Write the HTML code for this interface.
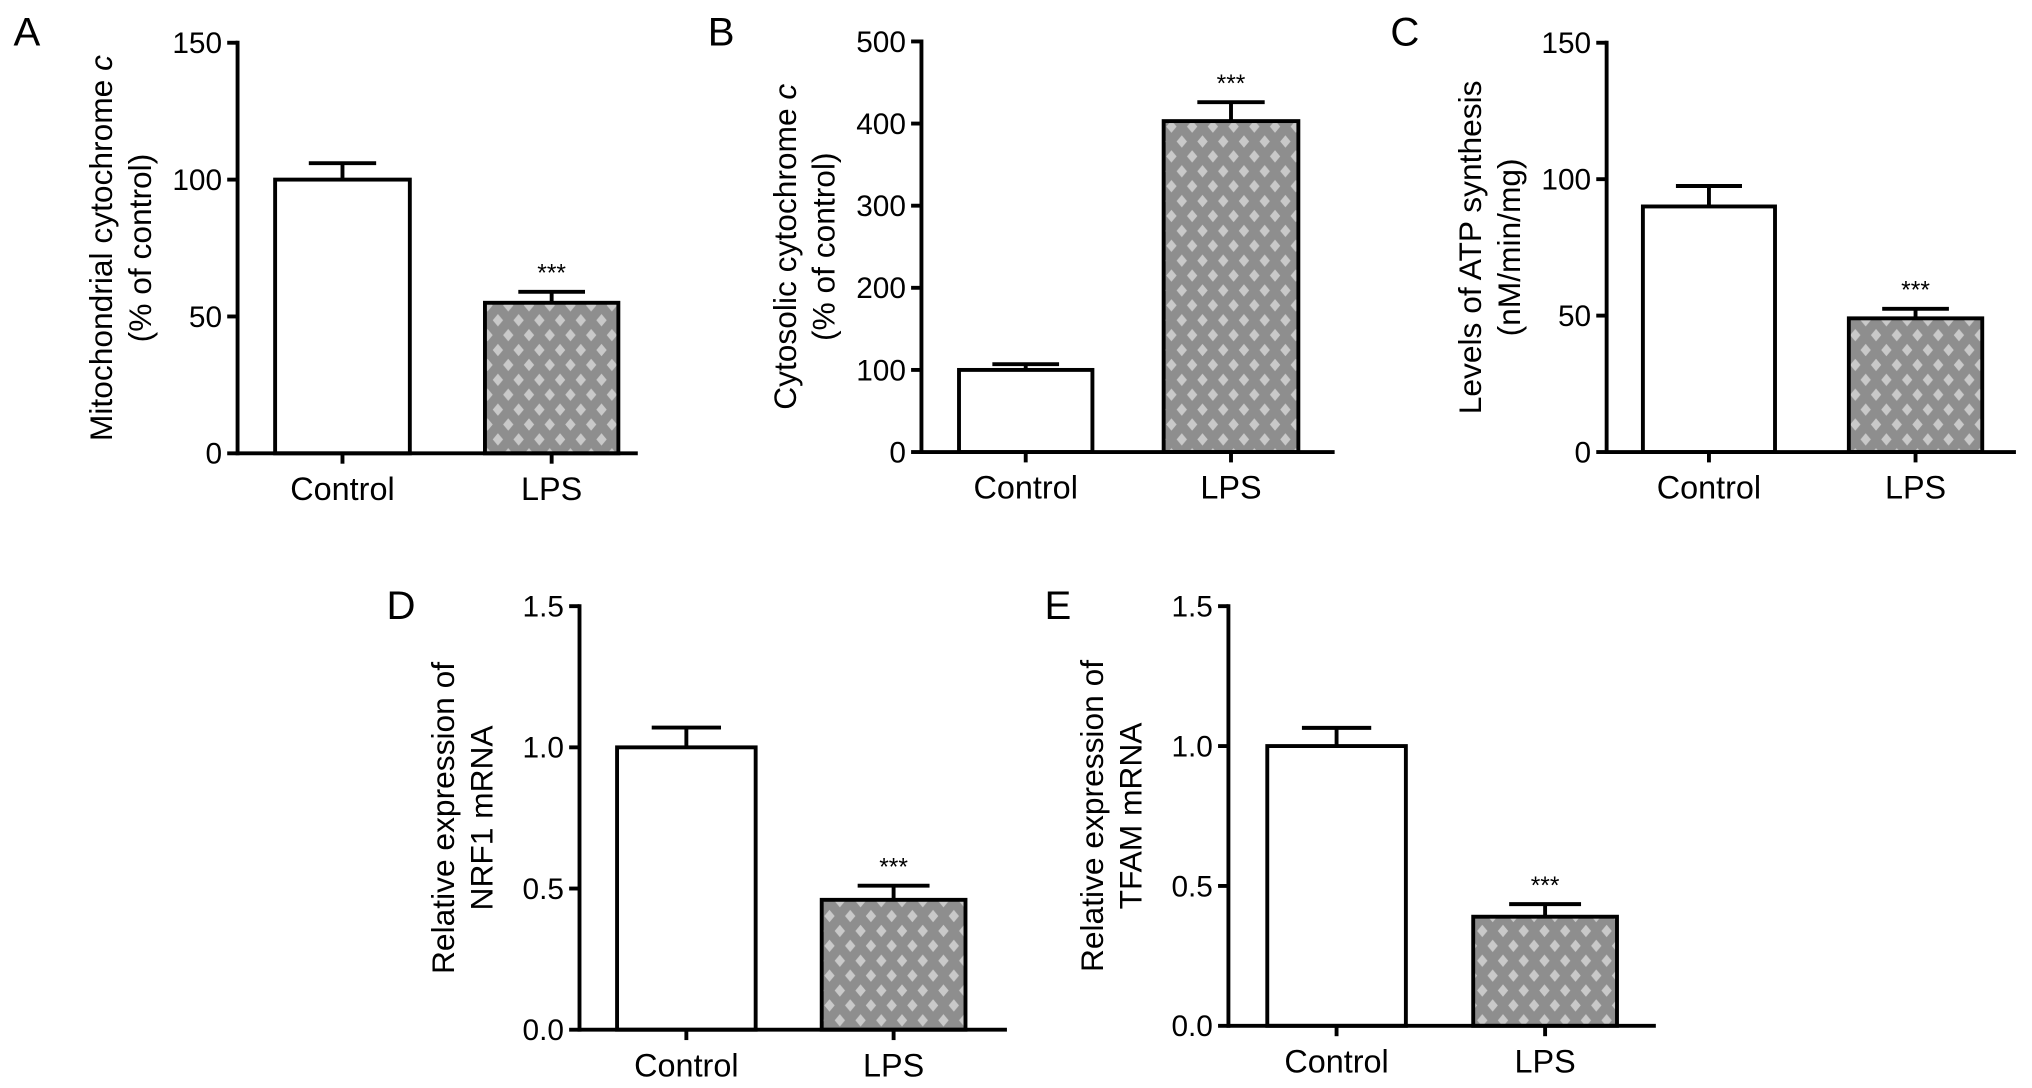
<!DOCTYPE html>
<html><head><meta charset="utf-8"><style>
html,body{margin:0;padding:0;background:#fff}
svg{display:block;font-family:"Liberation Sans",Arial,sans-serif}
</style></head><body>
<svg id="fig" width="2032" height="1088" viewBox="0 0 1568 840" xmlns="http://www.w3.org/2000/svg">
<defs>
<pattern id="dots" width="16" height="23" patternUnits="userSpaceOnUse">
<rect width="16" height="23" fill="#8e8e8e"/>
<path d="M8 1 L12 5.75 L8 10.5 L4 5.75 Z M0 12.5 L4 17.25 L0 22 L-4 17.25 Z M16 12.5 L20 17.25 L16 22 L12 17.25 Z" fill="#c9c9c9"/>
</pattern>
</defs>
</svg>
<script>
const categories = ["Control","LPS"];
const panelLetters = ["A","B","C","D","E"];
const valuesA = [100, 55];   const errA = [106, 59];
const valuesB = [100, 403];  const errB = [107, 426];
const valuesC = [90, 49];    const errC = [97.5, 52.5];
const valuesD = [1.0, 0.46]; const errD = [1.07, 0.51];
const valuesE = [1.0, 0.39]; const errE = [1.065, 0.435];
const ticksA = ["0","50","100","150"];
const ticksB = ["0","100","200","300","400","500"];
const ticksC = ["0","50","100","150"];
const ticksD = ["0.0","0.5","1.0","1.5"];
const ticksE = ["0.0","0.5","1.0","1.5"];
const titlesA = ["Mitochondrial cytochrome c","(% of control)"];
const titlesB = ["Cytosolic cytochrome c","(% of control)"];
const titlesC = ["Levels of ATP synthesis","(nM/min/mg)"];
const titlesD = ["Relative expression of","NRF1 mRNA"];
const titlesE = ["Relative expression of","TFAM mRNA"];

const layout = [
 {ax:183, y0:350, y1:33, xe:492, bars:[[212,316],[374,477]], max:150, ticks:ticksA, vals:valuesA, err:errA, titles:titlesA, italic:true, lx:10, ly:35},
 {ax:711, y0:349, y1:32, xe:1030, bars:[[740,843],[898,1002]], max:500, ticks:ticksB, vals:valuesB, err:errB, titles:titlesB, italic:true, lx:546, ly:35},
 {ax:1240, y0:349, y1:33, xe:1556, bars:[[1268,1370],[1427,1530]], max:150, ticks:ticksC, vals:valuesC, err:errC, titles:titlesC, italic:false, lx:1073, ly:35},
 {ax:447, y0:795, y1:468, xe:777, bars:[[476,583],[634,745]], max:1.5, ticks:ticksD, vals:valuesD, err:errD, titles:titlesD, italic:false, lx:298, ly:478},
 {ax:948, y0:792, y1:468, xe:1278, bars:[[978,1085],[1137,1248]], max:1.5, ticks:ticksE, vals:valuesE, err:errE, titles:titlesE, italic:false, lx:806, ly:478}
];
const NS="http://www.w3.org/2000/svg";
const svg=document.getElementById('fig');
function mk(tag,attrs,parent){const e=document.createElementNS(NS,tag);for(const k in attrs)e.setAttribute(k,attrs[k]);(parent||svg).appendChild(e);return e;}
layout.forEach((p,pi)=>{
  const g=mk('g',{});
  
  
  const yS=v=>p.y0-(v/p.max)*(p.y0-p.y1);
  const L=mk('text',{x:p.lx,y:p.ly,'font-size':31,fill:'#000'},g); L.textContent=panelLetters[pi];
  
  
  categories.forEach((c,i)=>{
    const [x0,x1]=p.bars[i]; const v=p.vals[i]; const yt=yS(v); const cx=(x0+x1)/2;
    const r=mk('rect',{x:x0,y:yt,width:x1-x0,height:p.y0-yt,fill:i==0?'#fff':'url(#dots)',stroke:'#000','stroke-width':3},g);
    
    
    const ye=yS(p.err[i]); const hw=(x1-x0)*0.25;
    const e=mk('path',{d:`M${cx} ${yt} V${ye} M${cx-hw} ${ye} H${cx+hw}`,stroke:'#000','stroke-width':3,fill:'none'},g);
    
    
    const t=mk('text',{x:cx,y:p.y0+36,'font-size':25,'text-anchor':'middle'},g); t.textContent=c;
    
    
    mk('line',{x1:cx,y1:p.y0,x2:cx,y2:p.y0+8,stroke:'#000','stroke-width':3},g);
    if(i==1){const s=mk('text',{x:cx,y:ye-8,'font-size':19,'text-anchor':'middle'},g); s.textContent='***';
      
      }
  });
  const ya=mk('line',{x1:p.ax,y1:p.y1-1.5,x2:p.ax,y2:p.y0+1.5,stroke:'#000','stroke-width':3},g);
  
  
  const xa=mk('line',{x1:p.ax,y1:p.y0,x2:p.xe,y2:p.y0,stroke:'#000','stroke-width':3},g);
  
  
  p.ticks.forEach((t,i)=>{
    const v=p.max*i/(p.ticks.length-1); const y=yS(v);
    mk('line',{x1:p.ax-8,y1:y,x2:p.ax,y2:y,stroke:'#000','stroke-width':3},g);
    const tx=mk('text',{x:p.ax-12,y:y+8,'font-size':23,'text-anchor':'end'},g); tx.textContent=t;
    
    
  });
  const cy=(p.y0+p.y1)/2;
  p.titles.forEach((s,i)=>{
    const tx0=p.ax-97+i*30;
    const t=mk('text',{x:tx0,y:cy,'font-size':24.5,'text-anchor':'middle',transform:`rotate(-90 ${tx0} ${cy})`},g);
    if(p.italic&&i==0){t.textContent=s.slice(0,-1);const it=mk('tspan',{'font-style':'italic'},t);it.textContent='c';}
    else t.textContent=s;
    
    
  });
});
</script>
</body></html>
